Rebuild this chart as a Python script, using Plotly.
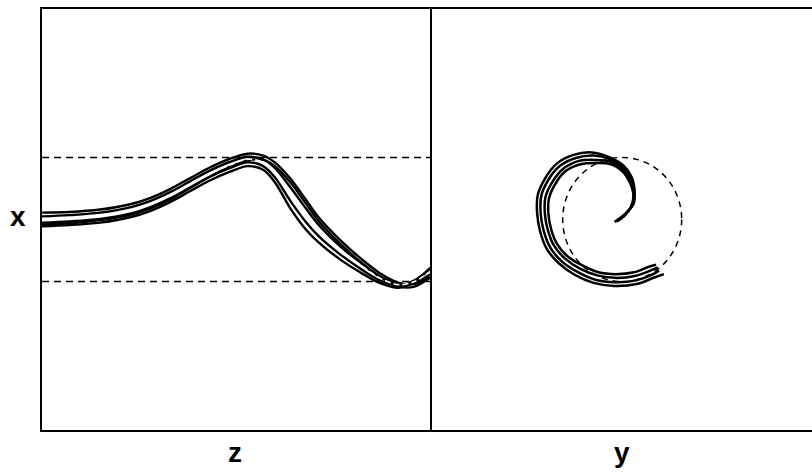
import plotly.graph_objects as go
from plotly.subplots import make_subplots

# ---- left panel: x versus z ----
z = [0, 0.7, 1.5, 2.3, 2.8, 3.3, 3.8, 4.3, 4.85, 5.3, 5.7, 6.0, 6.4, 6.8, 7.15, 7.7, 8.2, 8.7, 9.2, 9.6, 10]
x_ref = [0.00, 0.02, 0.06, 0.15, 0.25, 0.39, 0.56, 0.73, 0.88, 0.97, 0.92, 0.76, 0.42, 0.08, -0.18, -0.50, -0.73, -0.94, -1.05, -1.00, -0.84]
x_run1 = [0.11, 0.12, 0.16, 0.25, 0.35, 0.49, 0.66, 0.83, 0.98, 1.06, 1.03, 0.92, 0.66, 0.32, 0.02, -0.34, -0.62, -0.86, -1.02, -1.04, -0.92]
x_run2 = [0.05, 0.07, 0.11, 0.20, 0.30, 0.44, 0.61, 0.78, 0.93, 1.01, 0.97, 0.83, 0.52, 0.18, -0.10, -0.44, -0.69, -0.91, -1.04, -1.02, -0.88]
x_run3 = [-0.05, -0.03, 0.01, 0.10, 0.20, 0.34, 0.51, 0.68, 0.83, 0.92, 0.86, 0.68, 0.30, -0.04, -0.28, -0.57, -0.79, -0.98, -1.07, -0.98, -0.80]
x_run4 = [-0.11, -0.09, -0.05, 0.04, 0.14, 0.28, 0.45, 0.62, 0.77, 0.86, 0.80, 0.60, 0.18, -0.16, -0.38, -0.65, -0.85, -1.02, -1.10, -1.00, -0.78]
x_run5 = [-0.08, -0.06, -0.01, 0.08, 0.18, 0.32, 0.50, 0.68, 0.85, 0.95, 0.96, 0.86, 0.60, 0.26, -0.04, -0.40, -0.68, -0.92, -1.08, -1.08, -0.94]

# ---- right panel: x versus y (spiral trajectories) ----
yA = [-0.13, 0.06, 0.19, 0.21, 0.16, 0.02, -0.21, -0.51, -0.82, -1.10, -1.29, -1.42, -1.43, -1.38, -1.27, -1.07, -0.80, -0.48, -0.13, 0.24, 0.55, 0.70]
xA = [-0.04, 0.10, 0.25, 0.44, 0.68, 0.87, 1.00, 1.08, 1.04, 0.90, 0.67, 0.39, 0.11, -0.19, -0.47, -0.70, -0.89, -1.02, -1.07, -1.04, -0.93, -0.88]
yB = [-0.11, 0.055, 0.175, 0.205, 0.15, 0.02, -0.20, -0.48, -0.78, -1.05, -1.24, -1.36, -1.37, -1.32, -1.21, -1.02, -0.76, -0.45, -0.12, 0.23, 0.52, 0.62]
xB = [-0.03, 0.09, 0.24, 0.43, 0.65, 0.84, 0.97, 1.03, 0.99, 0.86, 0.64, 0.38, 0.10, -0.18, -0.45, -0.67, -0.84, -0.97, -1.01, -0.98, -0.88, -0.82]
yC = [-0.09, 0.04, 0.16, 0.19, 0.14, 0.02, -0.19, -0.45, -0.74, -1.00, -1.17, -1.29, -1.30, -1.25, -1.14, -0.96, -0.71, -0.42, -0.12, 0.21, 0.48, 0.60]
xC = [-0.03, 0.07, 0.22, 0.41, 0.61, 0.80, 0.93, 0.96, 0.94, 0.81, 0.61, 0.36, 0.10, -0.17, -0.43, -0.63, -0.79, -0.90, -0.94, -0.91, -0.82, -0.77]
yD = [-0.07, 0.03, 0.15, 0.19, 0.14, 0.02, -0.19, -0.43, -0.70, -0.95, -1.12, -1.23, -1.24, -1.19, -1.09, -0.91, -0.67, -0.40, -0.11, 0.20, 0.45, 0.57]
xD = [-0.02, 0.05, 0.21, 0.39, 0.57, 0.76, 0.89, 0.91, 0.89, 0.78, 0.58, 0.34, 0.09, -0.17, -0.40, -0.60, -0.74, -0.85, -0.88, -0.85, -0.76, -0.73]

# reference orbit amplitude
amp = 1.0

fig = make_subplots(rows=1, cols=2, shared_yaxes=True, horizontal_spacing=0,
                    column_widths=[388, 382])

ink = "black"
for xs in [x_run1, x_run2, x_run3, x_run4, x_run5]:
    fig.add_trace(go.Scatter(x=z, y=xs, mode="lines",
                             line=dict(color=ink, width=2.4, shape="spline", smoothing=0.9),
                             showlegend=False, hoverinfo="skip"), row=1, col=1)
fig.add_trace(go.Scatter(x=z, y=x_ref, mode="lines",
                         line=dict(color="white", width=1.6, dash="6px,3px", shape="spline", smoothing=0.9),
                         showlegend=False, hoverinfo="skip"), row=1, col=1)

for ys, xs in [(yA, xA), (yB, xB), (yC, xC), (yD, xD)]:
    fig.add_trace(go.Scatter(x=ys, y=xs, mode="lines", line=dict(color=ink, width=2.5, shape="spline"),
                             showlegend=False, hoverinfo="skip"), row=1, col=2)

# dashed bounds of the reference motion
for level in (amp, -amp):
    fig.add_shape(type="line", xref="x domain", yref="y", x0=0, x1=1, y0=level, y1=level,
                  line=dict(color=ink, width=1.5, dash="7px,5px"), layer="below")
fig.add_shape(type="circle", xref="x2", yref="y2", x0=-amp, x1=amp, y0=-amp, y1=amp,
              line=dict(color=ink, width=1.5, dash="6px,5px"), layer="below")

axis_common = dict(showgrid=False, zeroline=False, showticklabels=False, ticks="",
                   showline=True, linecolor=ink, linewidth=2)
fig.update_xaxes(range=[0, 10], mirror=True, **axis_common, row=1, col=1)
fig.update_xaxes(range=[-3.23, 3.19], mirror=True, **axis_common, row=1, col=2)
fig.update_yaxes(range=[-3.39, 3.39], mirror=True, **axis_common, row=1, col=1)
fig.update_yaxes(showline=False, showgrid=False, zeroline=False, showticklabels=False, ticks="",
                 row=1, col=2)

label_font = dict(family="Liberation Sans, Arial, sans-serif", size=28, color=ink)
fig.add_annotation(text="<b>x</b>", xref="paper", yref="paper", x=-0.031, y=0.506,
                   showarrow=False, font=label_font, xanchor="center", yanchor="middle")
fig.add_annotation(text="<b>z</b>", xref="paper", yref="paper", x=0.2506, y=-0.054,
                   showarrow=False, font=label_font, xanchor="center", yanchor="middle")
fig.add_annotation(text="<b>y</b>", xref="paper", yref="paper", x=0.753, y=-0.054,
                   showarrow=False, font=label_font, xanchor="center", yanchor="middle")

fig.update_layout(width=812, height=475, margin=dict(l=42, r=0, t=9, b=45),
                  plot_bgcolor="white", paper_bgcolor="white", showlegend=False)

fig.write_html("out.html")
